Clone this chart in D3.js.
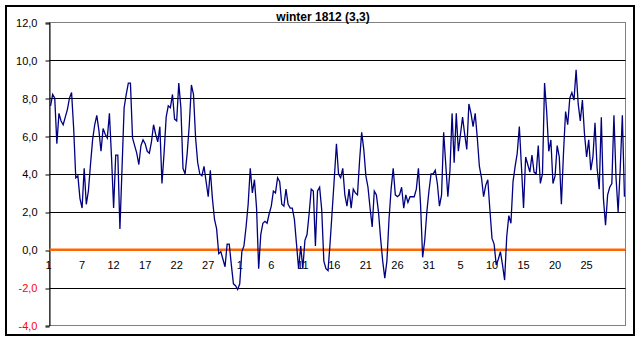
<!DOCTYPE html>
<html>
<head>
<meta charset="utf-8">
<script src="https://cdn.jsdelivr.net/npm/d3@7"></script>
<style>
  body { margin: 0; background: #fff; }
  svg { display: block; font-family: Arial, "Liberation Sans", sans-serif; }
</style>
</head>
<body>
<svg id="chart" width="641" height="341"></svg>
<script>
// winter 1812 (3,3) - temperature readings, 3 per day

const title = "winter 1812 (3,3)";

// readings
const temps = [
  7.6, 8.2, 8.0, 5.6, 7.2, 6.8, 6.6, 7.0, 7.4, 8.0,
  8.3, 6.4, 3.8, 3.9, 2.7, 2.2, 4.3, 2.4, 3.1, 4.5,
  5.8, 6.6, 7.1, 6.3, 5.2, 6.4, 6.1, 5.9, 7.2, 4.9,
  2.2, 5.0, 5.0, 1.1, 4.3, 7.5, 8.2, 8.8, 8.8, 5.9,
  5.5, 5.1, 4.5, 5.5, 5.8, 5.6, 5.2, 5.1, 5.7, 6.6,
  6.1, 5.7, 6.5, 3.5, 5.1, 7.0, 7.6, 7.5, 8.2, 6.9,
  6.8, 8.8, 7.5, 4.3, 4.0, 5.1, 6.6, 8.7, 8.2, 5.9,
  4.6, 4.0, 3.9, 4.4, 3.6, 2.8, 4.2, 2.7, 1.6, 1.1,
  -0.2, -0.1, -0.5, -0.9, 0.3, 0.3, -0.8, -1.8, -1.9, -2.1,
  -1.8, -0.1, 0.2, 1.2, 2.4, 4.3, 3.0, 3.7, 2.2, -1.0,
  0.8, 1.4, 1.5, 1.4, 1.9, 2.3, 3.1, 3.0, 3.8, 3.6,
  2.4, 2.3, 3.2, 2.4, 2.2, 2.2, 1.6, 0.3, -1.0, 0.2,
  -1.0, 0.5, 0.8, 1.9, 3.2, 3.1, 0.2, 3.1, 3.3, 2.1,
  -0.6, -1.0, -1.1, 0.4, 2.1, 3.8, 5.6, 4.0, 3.8, 4.3,
  2.9, 2.3, 3.2, 2.2, 3.2, 3.0, 2.9, 4.7, 6.2, 5.3,
  3.9, 3.3, 2.2, 1.2, 3.1, 2.9, 2.0, 0.6, -0.6, -1.5,
  -0.6, 1.6, 3.2, 4.3, 2.9, 2.8, 2.9, 3.3, 2.2, 2.9,
  2.5, 2.8, 2.8, 2.8, 3.2, 4.3, 2.4, -0.4, 0.5, 2.0,
  3.1, 4.0, 4.0, 4.2, 3.5, 2.3, 2.9, 6.2, 4.5, 2.8,
  4.2, 7.2, 4.6, 7.2, 5.2, 6.1, 7.0, 6.1, 5.3, 7.7,
  7.2, 6.5, 7.2, 5.9, 4.4, 3.8, 2.8, 3.4, 3.7, 2.1,
  0.6, 0.3, -0.8, -0.5, -0.1, -0.8, -1.6, 0.7, 1.8, 1.4,
  3.6, 4.4, 5.1, 6.5, 4.4, 2.2, 4.9, 4.5, 4.1, 5.0,
  4.1, 4.0, 5.5, 3.5, 4.0, 8.8, 7.3, 5.2, 5.8, 3.5,
  3.9, 5.5, 4.9, 2.4, 5.1, 7.3, 6.6, 8.0, 8.3, 7.9,
  9.5, 7.7, 6.8, 7.9, 6.1, 4.9, 5.8, 4.2, 4.9, 6.7,
  4.3, 3.2, 7.0, 2.7, 1.3, 2.9, 3.3, 3.5, 7.1, 3.8,
  2.0, 4.3, 7.1, 2.8
];

// day labels, one every 15 readings
const xLabels = ["1", "7", "12", "17", "22", "27", "1", "6", "11", "16", "21", "26", "31", "5", "10", "15", "20", "25"];
const labelStep = 15;

const yTicks = [-4, -2, 0, 2, 4, 6, 8, 10, 12];

const svg = d3.select("#chart");

let plot = {left: 49.5, right: 625.5, top: 22.5, bottom: 325.5};

let x = d3.scaleBand()
  .domain(d3.range(temps.length))
  .range([plot.left, plot.right]);

let y = d3.scaleLinear()
  .domain([-4, 12])
  .range([plot.bottom, plot.top]);

let fmt = v => v.toFixed(1).replace(".", ",");

// outer frame
svg.append("rect")
  .attr("x", 6).attr("y", 6)
  .attr("width", 628).attr("height", 329)
  .attr("fill", "#fff")
  .attr("stroke", "#000")
  .attr("stroke-width", 2);

// plot area border (grey)
svg.append("rect")
  .attr("x", plot.left).attr("y", plot.top)
  .attr("width", plot.right - plot.left)
  .attr("height", plot.bottom - plot.top)
  .attr("fill", "none")
  .attr("stroke", "#808080");

// gridlines
svg.append("g")
  .selectAll("line")
  .data(yTicks.filter(d => d > -4 && d < 12))
  .enter()
  .append("line")
    .attr("x1", plot.left).attr("x2", plot.right)
    .attr("y1", d => Math.round(y(d)) + 0.5)
    .attr("y2", d => Math.round(y(d)) + 0.5)
    .attr("stroke", "#000");

// y axis
let yAxis = svg.append("g")
  .attr("transform", "translate(" + plot.left + ",0)")
  .call(d3.axisLeft(y).tickValues(yTicks).tickSize(4).tickPadding(8).tickFormat(fmt));
yAxis.select(".domain").attr("stroke", "#000");
yAxis.selectAll(".tick line")
  .attr("transform", d => "translate(0," + (Math.round(y(d)) + 0.5 - y(d)) + ")");
yAxis.selectAll("text")
  .attr("font-size", 11)
  .attr("font-family", "Arial, 'Liberation Sans', sans-serif")
  .attr("dy", "0.36em")
  .attr("fill", d => d < 0 ? "#ff0000" : "#000");

// zero line
svg.append("line")
  .attr("x1", plot.left).attr("x2", plot.right)
  .attr("y1", y(0)).attr("y2", y(0))
  .attr("stroke", "#ff6600")
  .attr("stroke-width", 2.5);

// x labels
svg.append("g")
  .selectAll("text")
  .data(xLabels)
  .enter()
  .append("text")
    .attr("x", (d, i) => x(i * labelStep) + x.bandwidth() / 2 - (i == 0 ? 2 : 0))
    .attr("y", y(0) + 19)
    .attr("text-anchor", "middle")
    .attr("font-size", 11)
    .text(d => d);

// temperature line
let line = d3.line()
  .x((d, i) => x(i) + x.bandwidth() / 2)
  .y(d => y(d));

svg.append("path")
  .datum(temps)
  .attr("d", line)
  .attr("fill", "none")
  .attr("stroke", "#000080")
  .attr("stroke-width", 1.3);

// title
svg.append("text")
  .attr("x", 323)
  .attr("y", 20.5)
  .attr("text-anchor", "middle")
  .attr("font-size", 12)
  .attr("font-weight", "bold")
  .text(title);
</script>
</body>
</html>
